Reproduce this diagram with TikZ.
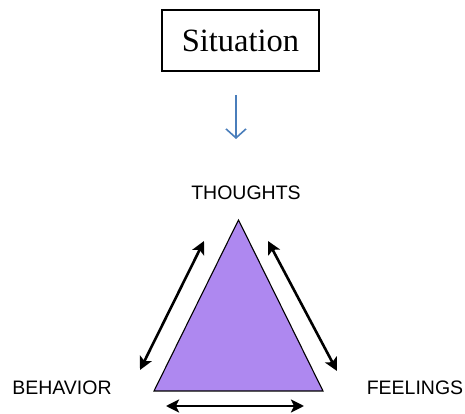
\documentclass[tikz,border=0pt]{standalone}
\usepackage{fontspec}
\setmainfont{Liberation Serif}
\newfontfamily\labelfont{Liberation Sans}
\usetikzlibrary{arrows.meta}
\definecolor{tripurple}{RGB}{174,136,240}
\definecolor{arrowblue}{RGB}{74,126,187}
\tikzset{
  corner label/.style={font=\labelfont\fontsize{19.5}{22}\selectfont, inner sep=0pt},
  link/.style={{Stealth[length=13pt,width=13pt,inset=3pt]}-{Stealth[length=13pt,width=13pt,inset=3pt]}, line width=2.6pt}
}
\begin{document}
\begin{tikzpicture}[x=1pt,y=1pt]
\useasboundingbox (0,0) rectangle (465,414);
\node (sit) at (240.5,373.5) [draw, line width=1.8pt, minimum width=157pt, minimum height=61pt, inner sep=0pt, font=\fontsize{32.5}{36}\selectfont] {Situation};
\coordinate (a1) at (236,319);
\coordinate (a2) at (236,275);
\draw [arrowblue, line width=1.6pt, -{Straight Barb[length=9pt,width=20pt]}] (a1) -- (a2);
\coordinate (top) at (238.5,194);
\coordinate (bl) at (154,23);
\coordinate (br) at (323,23);
\draw [fill=tripurple, line width=1.1pt, line join=miter] (top) -- (br) -- (bl) -- cycle;
\node (thoughts) at (246,221) [corner label] {THOUGHTS};
\node (behavior) at (62,26) [corner label] {BEHAVIOR};
\node (feelings) at (415,26) [corner label] {FEELINGS};
\coordinate (l1) at (140,44);
\coordinate (l2) at (204,173);
\coordinate (r1) at (268,173);
\coordinate (r2) at (337,43);
\coordinate (b1) at (166,8);
\coordinate (b2) at (304,8);
\draw [link] (l1) -- (l2);
\draw [link] (r1) -- (r2);
\draw [link] (b1) -- (b2);
\end{tikzpicture}
\end{document}
